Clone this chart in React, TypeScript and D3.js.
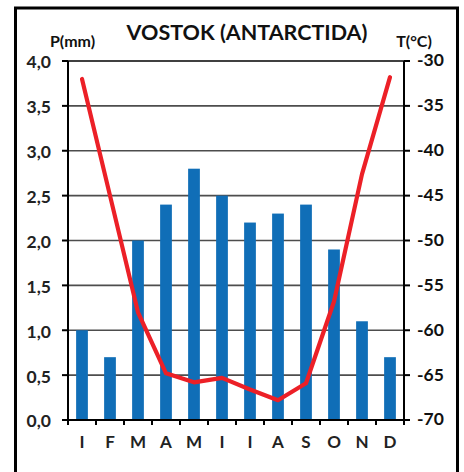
import * as d3 from 'd3'

const months = ['I', 'F', 'M', 'A', 'M', 'I', 'I', 'A', 'S', 'O', 'N', 'D']
const precip = [1.0, 0.7, 2.0, 2.4, 2.8, 2.5, 2.2, 2.3, 2.4, 1.9, 1.1, 0.7]
const temp = [-32, -45, -58, -64.8, -65.8, -65.3, -66.6, -67.8, -65.9, -56.8, -42.6, -31.8]
const pTicks = [0, 0.5, 1, 1.5, 2, 2.5, 3, 3.5, 4]
const tTicks = [-70, -65, -60, -55, -50, -45, -40, -35, -30]

const W = 464
const H = 472
const m = { left: 68, right: 404, top: 61, bottom: 420 }
const font = 'Lato, "Open Sans", sans-serif'

export default function App() {
	const x = d3.scaleBand<number>().domain(d3.range(12)).range([m.left, m.right]).paddingInner(0.58).paddingOuter(0.29)
	const y = d3.scaleLinear().domain([0, 4]).range([m.bottom, m.top])
	const yT = d3.scaleLinear().domain([-70, -30]).range([m.bottom, m.top])
	const step = (m.right - m.left) / 12
	const cx = (i: number) => m.left + step * (i + 0.5)

	const line = d3
		.line<number>()
		.x((_, i) => cx(i))
		.y(d => yT(d))

	const fmt = (v: number) => v.toFixed(1).replace('.', ',')

	return (
		<svg width={W} height={H} style={{ position: 'fixed', left: 0, top: 0, background: '#fff' }} fontFamily={font} fontWeight={700}>
			<rect x={15.5} y={8} width={442} height={480} fill="#fff" stroke="#000" strokeWidth={3} />

			{/* grid */}
			{pTicks.slice(1, -1).map(v => (
				<line key={v} x1={m.left} x2={m.right} y1={y(v)} y2={y(v)} stroke="#4d4d4d" strokeWidth={1.6} />
			))}

			{/* bars */}
			{precip.map((v, i) => (
				<rect key={i} x={x(i)} y={y(v)} width={x.bandwidth()} height={y(0) - y(v)} fill="#106eb7" />
			))}

			{/* frame of plot */}
			<line x1={m.left} x2={m.right} y1={m.top} y2={m.top} stroke="#000" strokeWidth={1.6} />
			<line x1={m.left} x2={m.right} y1={m.bottom} y2={m.bottom} stroke="#000" strokeWidth={2} />
			<line x1={m.left} x2={m.left} y1={m.top} y2={m.bottom} stroke="#000" strokeWidth={2} />
			<line x1={m.right} x2={m.right} y1={m.top} y2={m.bottom} stroke="#000" strokeWidth={2} />

			{/* left axis */}
			{pTicks.map(v => (
				<g key={v}>
					<line x1={m.left - 6} x2={m.left} y1={y(v)} y2={y(v)} stroke="#000" strokeWidth={2} />
					<text x={51} y={y(v) + 3} textAnchor="end" dominantBaseline="middle" fontSize={17.5} fill="#222">
						{fmt(v)}
					</text>
				</g>
			))}

			{/* right axis */}
			{tTicks.map(v => (
				<g key={v}>
					<line x1={m.right} x2={m.right + 6} y1={yT(v)} y2={yT(v)} stroke="#000" strokeWidth={2} />
					<text x={417} y={yT(v) + 1} dominantBaseline="middle" fontSize={17.5} fill="#111">
						{v}
					</text>
				</g>
			))}

			{/* bottom ticks */}
			{d3.range(13).map(i => (
				<line key={i} x1={m.left + step * i} x2={m.left + step * i} y1={m.bottom} y2={m.bottom + 5} stroke="#000" strokeWidth={2} />
			))}
			{months.map((d, i) => (
				<text key={i} x={cx(i)} y={448} textAnchor="middle" fontSize={17} fill="#222">
					{d}
				</text>
			))}

			{/* temperature */}
			<path d={line(temp) ?? ''} fill="none" stroke="#ec2027" strokeWidth={4.2} strokeLinejoin="round" strokeLinecap="round" />

			<text x={247} y={40} textAnchor="middle" fontSize={21.5} fill="#111">
				VOSTOK (ANTARCTIDA)
			</text>
			<text x={72.5} y={47} textAnchor="middle" fontSize={16} fill="#111">
				P(mm)
			</text>
			<text x={414} y={47} textAnchor="middle" fontSize={16} fill="#111">
				T(°C)
			</text>
		</svg>
	)
}
